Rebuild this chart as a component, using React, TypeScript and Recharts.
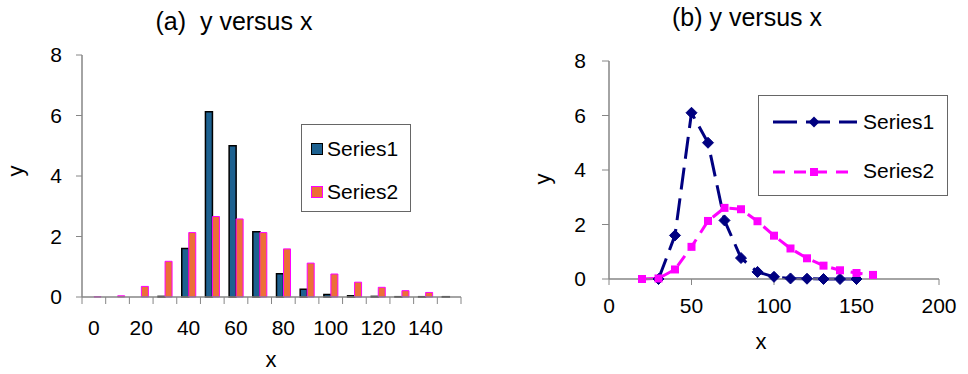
import React from 'react';
import { BarChart, Bar, XAxis, YAxis, LineChart, Line, Legend } from 'recharts';

const FONT = '"Liberation Sans", Arial, Helvetica, sans-serif';
const AXIS_COLOR = '#868686';
const S1_BAR = '#1d6190';
const S2_BAR = '#ec6f38';
const S1_LINE = '#000080';
const S2_LINE = '#ff00ff';

// ---- Chart (a): bar chart data ----
const barCategories = [0, 10, 20, 30, 40, 50, 60, 70, 80, 90, 100, 110, 120, 130, 140, 150];
const barSeries1 = [0, 0, 0, 0.02, 1.6, 6.12, 5.0, 2.16, 0.77, 0.26, 0.08, 0.04, 0.02, 0.01, 0.01, 0.01];
const barSeries2 = [0.01, 0.04, 0.35, 1.18, 2.13, 2.66, 2.58, 2.13, 1.59, 1.12, 0.76, 0.49, 0.32, 0.21, 0.15, null];
const yTicks = [0, 2, 4, 6, 8];

// ---- Chart (b): line chart data ----
const line1X = [30, 40, 50, 60, 70, 80, 90, 100, 110, 120, 130, 140, 150];
const line1Y = [0, 1.6, 6.1, 5.0, 2.15, 0.77, 0.26, 0.08, 0.02, 0.01, 0, 0, 0];
const line2X = [20, 30, 40, 50, 60, 70, 80, 90, 100, 110, 120, 130, 140, 150, 160];
const line2Y = [0, 0.02, 0.35, 1.18, 2.13, 2.61, 2.56, 2.12, 1.59, 1.12, 0.76, 0.49, 0.32, 0.22, 0.15];
const xTicksB = [0, 50, 100, 150, 200];

const barData = barCategories.map((c, i) => ({ cat: c, s1: barSeries1[i], s2: barSeries2[i] }));
const line1Data = line1X.map((x, i) => ({ x, y: line1Y[i] }));
const line2Data = line2X.map((x, i) => ({ x, y: line2Y[i] }));

const LEFT_W = 480;
const LEFT_MARGIN = { top: 55, right: 19, left: 0, bottom: 17 };
const LEFT_YAXIS_W = 82;
const LEFT_PLOT_W = LEFT_W - LEFT_YAXIS_W - LEFT_MARGIN.right;

const BarTick = (props: any) => {
  const { x, y, payload, index } = props;
  const half = LEFT_PLOT_W / barCategories.length / 2;
  return (
    <g>
      <line x1={x - half} x2={x - half} y1={y} y2={y + 7} stroke={AXIS_COLOR} strokeWidth={1} />
      {index === barCategories.length - 1 && (
        <line x1={x + half} x2={x + half} y1={y} y2={y + 7} stroke={AXIS_COLOR} strokeWidth={1} />
      )}
      {index % 2 === 0 && (
        <text x={x} y={y + 38} textAnchor="middle" fontSize={21} fontFamily={FONT} fill="#000">
          {payload.value}
        </text>
      )}
    </g>
  );
};

const Diamond = (props: any) => {
  const { cx, cy, index } = props;
  if (cx == null || cy == null) return <g key={`d-${index}`} />;
  const r = 5.5;
  return (
    <polygon
      key={`d-${index}`}
      points={`${cx},${cy - r} ${cx + r},${cy} ${cx},${cy + r} ${cx - r},${cy}`}
      fill={S1_LINE}
      stroke={S1_LINE}
      strokeWidth={1}
    />
  );
};

const Square = (props: any) => {
  const { cx, cy, index } = props;
  if (cx == null || cy == null) return <g key={`s-${index}`} />;
  const r = 4;
  return <rect key={`s-${index}`} x={cx - r} y={cy - r} width={2 * r} height={2 * r} fill={S2_LINE} />;
};

const BarLegend = () => (
  <div
    style={{
      width: 110,
      height: 88,
      boxSizing: 'border-box',
      border: '1px solid #666',
      background: '#fff',
      position: 'relative',
      fontFamily: FONT,
      fontSize: 21,
      color: '#000',
    }}
  >
    <div style={{ position: 'absolute', left: 9, top: 18, width: 12, height: 12, boxSizing: 'border-box', background: S1_BAR, border: '1.5px solid #000' }} />
    <div style={{ position: 'absolute', left: 25, top: 12, lineHeight: '24px', whiteSpace: 'nowrap' }}>Series1</div>
    <div style={{ position: 'absolute', left: 9, top: 61, width: 12, height: 12, boxSizing: 'border-box', background: S2_BAR, border: '1px solid #ff00ff' }} />
    <div style={{ position: 'absolute', left: 25, top: 55, lineHeight: '24px', whiteSpace: 'nowrap' }}>Series2</div>
  </div>
);

const LineLegend = () => (
  <div
    style={{
      width: 190,
      height: 101,
      boxSizing: 'border-box',
      border: '1px solid #666',
      background: '#fff',
      position: 'relative',
      fontFamily: FONT,
      fontSize: 21,
      color: '#000',
    }}
  >
    <svg width={90} height={16} style={{ position: 'absolute', left: 12, top: 18 }}>
      <line x1={2} x2={86} y1={8} y2={8} stroke={S1_LINE} strokeWidth={3} strokeDasharray="24 9" />
      <polygon points="43,2.5 48.5,8 43,13.5 37.5,8" fill={S1_LINE} />
    </svg>
    <div style={{ position: 'absolute', left: 104, top: 14, lineHeight: '24px', whiteSpace: 'nowrap' }}>Series1</div>
    <svg width={90} height={16} style={{ position: 'absolute', left: 12, top: 68 }}>
      <line x1={2} x2={86} y1={8} y2={8} stroke={S2_LINE} strokeWidth={3} strokeDasharray="12 9" />
      <rect x={39} y={4} width={8} height={8} fill={S2_LINE} />
    </svg>
    <div style={{ position: 'absolute', left: 104, top: 63, lineHeight: '24px', whiteSpace: 'nowrap' }}>Series2</div>
  </div>
);

export default function App() {
  const tickStyle = { fill: '#000', fontSize: 21, fontFamily: FONT };
  return (
    <div style={{ position: 'absolute', left: 0, top: 0, width: 968, height: 374, background: '#fff', overflow: 'hidden' }}>
      <div style={{ position: 'absolute', left: 0, top: 0 }}>
        <BarChart width={LEFT_W} height={374} data={barData} margin={LEFT_MARGIN} barGap={0} barSize={7}>
          <XAxis
            dataKey="cat"
            type="category"
            interval={0}
            height={60}
            axisLine={{ stroke: AXIS_COLOR, strokeWidth: 1.5 }}
            tickLine={false}
            tickSize={0}
            tickMargin={0}
            tick={<BarTick />}
          />
          <YAxis
            width={LEFT_YAXIS_W}
            domain={[0, 8]}
            ticks={yTicks}
            interval={0}
            tickSize={6}
            tickMargin={14}
            axisLine={{ stroke: AXIS_COLOR, strokeWidth: 1.5 }}
            tickLine={{ stroke: AXIS_COLOR }}
            tick={tickStyle}
          />
          <Bar dataKey="s1" name="Series1" fill={S1_BAR} stroke="#000" strokeWidth={1.5} isAnimationActive={false} />
          <Bar dataKey="s2" name="Series2" fill={S2_BAR} stroke="#ff00ff" strokeWidth={1} isAnimationActive={false} />
          <Legend
            layout="vertical"
            align="center"
            verticalAlign="middle"
            content={<BarLegend />}
            wrapperStyle={{ position: 'absolute', left: 301, top: 124, width: 110, height: 88 }}
          />
        </BarChart>
      </div>
      <div style={{ position: 'absolute', left: 500, top: 0 }}>
        <LineChart width={468} height={374} margin={{ top: 61, right: 29, left: 0, bottom: 35 }}>
          <XAxis
            type="number"
            dataKey="x"
            domain={[0, 200]}
            ticks={xTicksB}
            interval={0}
            height={60}
            tickSize={6}
            tickMargin={13}
            axisLine={{ stroke: AXIS_COLOR, strokeWidth: 1.5 }}
            tickLine={{ stroke: AXIS_COLOR }}
            tick={tickStyle}
          />
          <YAxis
            width={109}
            domain={[0, 8]}
            ticks={yTicks}
            interval={0}
            tickSize={7}
            tickMargin={16}
            axisLine={{ stroke: AXIS_COLOR, strokeWidth: 1.5 }}
            tickLine={{ stroke: AXIS_COLOR }}
            tick={tickStyle}
          />
          <Line
            data={line1Data}
            dataKey="y"
            name="Series1"
            stroke={S1_LINE}
            strokeWidth={3}
            strokeDasharray="22 9"
            dot={Diamond}
            activeDot={false}
            isAnimationActive={false}
          />
          <Line
            data={line2Data}
            dataKey="y"
            name="Series2"
            stroke={S2_LINE}
            strokeWidth={3}
            strokeDasharray="12 8"
            dot={Square}
            activeDot={false}
            isAnimationActive={false}
          />
          <Legend
            layout="vertical"
            align="center"
            verticalAlign="middle"
            content={<LineLegend />}
            wrapperStyle={{ position: 'absolute', left: 258, top: 95, width: 190, height: 101 }}
          />
        </LineChart>
      </div>
      <svg width={968} height={374} style={{ position: 'absolute', left: 0, top: 0, pointerEvents: 'none' }}>
        <text x={234} y={30} textAnchor="middle" fontSize={25} fontFamily={FONT} fill="#000" style={{ whiteSpace: 'pre' }}>
          (a)  y versus x
        </text>
        <text x={747} y={26} textAnchor="middle" fontSize={25} fontFamily={FONT} fill="#000">
          (b) y versus x
        </text>
        <text x={23} y={171} textAnchor="middle" fontSize={22} fontFamily={FONT} fill="#000" transform="rotate(-90 23 171)">
          y
        </text>
        <text x={271} y={367} textAnchor="middle" fontSize={22} fontFamily={FONT} fill="#000">
          x
        </text>
        <text x={550} y={179} textAnchor="middle" fontSize={22} fontFamily={FONT} fill="#000" transform="rotate(-90 550 179)">
          y
        </text>
        <text x={761} y={349} textAnchor="middle" fontSize={22} fontFamily={FONT} fill="#000">
          x
        </text>
      </svg>
    </div>
  );
}
